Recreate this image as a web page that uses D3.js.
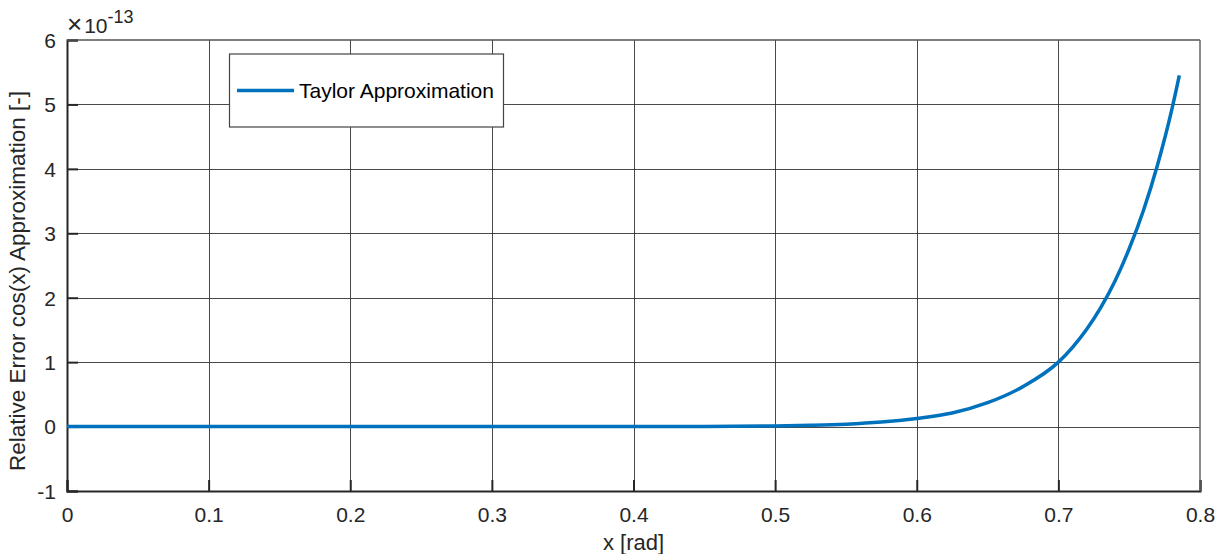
<!DOCTYPE html>
<html>
<head>
<meta charset="utf-8">
<script src="https://cdn.jsdelivr.net/npm/d3@7"></script>
<style>
  html, body { margin: 0; padding: 0; background: #fff; }
  svg { display: block; font-family: "Liberation Sans", Arial, Helvetica, sans-serif; }
</style>
</head>
<body>
<svg id="chart" width="1223" height="554"></svg>
<script>
// Relative error of the Taylor approximation of cos(x), in units of 1e-13
const xValues = [0, 0.05, 0.1, 0.15, 0.2, 0.25, 0.3, 0.35, 0.4, 0.45, 0.5, 0.525, 0.55, 0.575,
                 0.6, 0.625, 0.65, 0.675, 0.7, 0.71, 0.72, 0.73, 0.74, 0.75, 0.76, 0.77, 0.78, 0.7854];
const errValues = [0, 0, 0, 0, 0, 0, 0, 0, 0.0005, 0.002, 0.01, 0.02, 0.037, 0.07,
                   0.127, 0.21, 0.37, 0.62, 1.0, 1.23, 1.51, 1.85, 2.26, 2.76, 3.35, 4.06, 4.91, 5.45];
const xTicks = [0, 0.1, 0.2, 0.3, 0.4, 0.5, 0.6, 0.7, 0.8];
const yTicks = [-1, 0, 1, 2, 3, 4, 5, 6];
const seriesName = "Taylor Approximation";

const svg = d3.select("#chart");
const m = { left: 67, right: 1200, top: 40, bottom: 491 };
const ink = "#262626";

const x = d3.scaleLinear().domain([0, 0.8]).range([m.left, m.right]);
const y = d3.scaleLinear().domain([-1, 6]).range([m.bottom, m.top]);

// grid
const grid = svg.append("g").attr("shape-rendering", "crispEdges");
grid.selectAll(".gx").data(xTicks.slice(1, -1)).join("line")
  .attr("x1", d => Math.round(x(d)) + 0.5).attr("x2", d => Math.round(x(d)) + 0.5)
  .attr("y1", m.top).attr("y2", m.bottom)
  .attr("stroke", "#2a2a2a").attr("stroke-opacity", 0.85);
grid.selectAll(".gy").data(yTicks.slice(1, -1)).join("line")
  .attr("y1", d => Math.round(y(d)) + 0.5).attr("y2", d => Math.round(y(d)) + 0.5)
  .attr("x1", m.left).attr("x2", m.right)
  .attr("stroke", "#2a2a2a").attr("stroke-opacity", 0.85);

// axes (ticks pointing inward)
const tickLen = 11;
const tickFont = 21;
const xAxis = svg.append("g")
  .attr("transform", `translate(0,${m.bottom})`)
  .call(d3.axisBottom(x).tickValues(xTicks).tickSize(-tickLen).tickPadding(16)
        .tickFormat(d => d === 0 ? "0" : d3.format(".1f")(d)));
const yAxis = svg.append("g")
  .attr("transform", `translate(${m.left},0)`)
  .call(d3.axisLeft(y).tickValues(yTicks).tickSize(-tickLen).tickPadding(11)
        .tickFormat(d => String(d)));
[xAxis, yAxis].forEach(a => {
  a.select(".domain").attr("stroke", ink).attr("stroke-width", 2);
  a.selectAll(".tick line").attr("stroke", ink).attr("stroke-width", 2);
  a.selectAll(".tick text").attr("fill", ink).attr("font-size", tickFont)
    .attr("font-family", "'Liberation Sans', Arial, sans-serif");
});
yAxis.selectAll(".tick text").attr("dy", "0.35em");

// top and right box edges
svg.append("line").attr("x1", m.left).attr("x2", m.right).attr("y1", m.top).attr("y2", m.top)
  .attr("stroke", "#555").attr("stroke-width", 1.5);
svg.append("line").attr("x1", m.right).attr("x2", m.right).attr("y1", m.top).attr("y2", m.bottom)
  .attr("stroke", "#666").attr("stroke-width", 1.5);

// data line
const line = d3.line().x((d, i) => x(xValues[i])).y(d => y(d)).curve(d3.curveMonotoneX);
svg.append("path").datum(errValues)
  .attr("d", line).attr("fill", "none")
  .attr("stroke", "#0072BD").attr("stroke-width", 3.5);

// exponent label
const expo = svg.append("text").attr("x", 67).attr("y", 33).attr("fill", ink).attr("font-size", 21);
expo.append("tspan").attr("font-size", 26).attr("font-weight", 300).text("×");
expo.append("tspan").attr("dx", 2).text("10");
expo.append("tspan").attr("dy", -10).attr("font-size", 18).text("-13");

// axis titles
svg.append("text").attr("x", (m.left + m.right) / 2).attr("y", 550)
  .attr("text-anchor", "middle").attr("fill", ink).attr("font-size", 22).text("x [rad]");
svg.append("text")
  .attr("transform", `translate(25,281) rotate(-90)`)
  .attr("text-anchor", "middle").attr("fill", ink).attr("font-size", 22.5)
  .text("Relative Error cos(x) Approximation [-]");

// legend
const lg = svg.append("g");
lg.append("rect").attr("x", 229.5).attr("y", 54).attr("width", 274).attr("height", 73)
  .attr("fill", "#fff").attr("stroke", "#444").attr("stroke-width", 1.2);
lg.append("line").attr("x1", 237).attr("x2", 294).attr("y1", 90.5).attr("y2", 90.5)
  .attr("stroke", "#0072BD").attr("stroke-width", 3.5);
lg.append("text").attr("x", 299).attr("y", 90.5).attr("dy", "0.35em")
  .attr("fill", "#000").attr("font-size", 21).text(seriesName);
</script>
</body>
</html>
